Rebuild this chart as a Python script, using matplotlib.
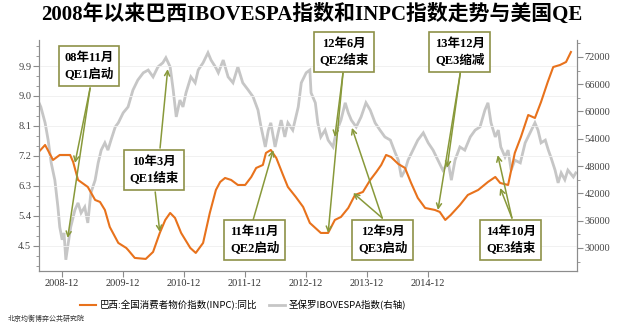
import matplotlib
matplotlib.use("Agg")
import matplotlib.pyplot as plt
from matplotlib.ticker import MultipleLocator

plt.rcParams['font.family'] = ['Noto Sans CJK SC', 'DejaVu Sans']
plt.rcParams['axes.unicode_minus'] = False

# 巴西 INPC 同比 (左轴, %)
inpc_t = [2008.52, 2008.64, 2008.77, 2008.88, 2009.05, 2009.10, 2009.18, 2009.34, 2009.46, 2009.54,
          2009.62, 2009.70, 2009.84, 2009.97, 2010.00, 2010.11, 2010.29, 2010.41, 2010.52, 2010.61,
          2010.69, 2010.77, 2010.87, 2011.02, 2011.11, 2011.23, 2011.34, 2011.44, 2011.51, 2011.59,
          2011.69, 2011.80, 2011.92, 2012.02, 2012.10, 2012.21, 2012.26, 2012.34, 2012.43, 2012.54,
          2012.62, 2012.75, 2012.87, 2012.98, 2013.07, 2013.16, 2013.28, 2013.39, 2013.49, 2013.61,
          2013.72, 2013.85, 2013.97, 2014.07, 2014.15, 2014.23, 2014.31, 2014.43, 2014.54, 2014.64,
          2014.75, 2014.87, 2015.03, 2015.11, 2015.20, 2015.29, 2015.44, 2015.57, 2015.74, 2015.90,
          2016.02, 2016.10, 2016.23, 2016.34, 2016.44, 2016.56, 2016.67, 2016.77, 2016.88, 2016.97,
          2017.08, 2017.18, 2017.26]
inpc_v = [7.29, 7.53, 7.08, 7.23, 7.23, 7.02, 6.48, 6.27, 5.88, 5.82,
          5.58, 5.07, 4.59, 4.44, 4.38, 4.14, 4.11, 4.32, 4.89, 5.28,
          5.49, 5.34, 4.89, 4.44, 4.29, 4.59, 5.49, 6.18, 6.42, 6.54,
          6.48, 6.33, 6.33, 6.57, 6.84, 6.93, 7.29, 7.38, 7.14, 6.63,
          6.27, 5.97, 5.67, 5.19, 5.04, 4.89, 4.89, 5.28, 5.37, 5.64,
          6.03, 6.12, 6.48, 6.72, 6.93, 7.23, 7.17, 6.96, 6.84, 6.39,
          5.94, 5.64, 5.58, 5.52, 5.28, 5.43, 5.73, 6.03, 6.18, 6.42,
          6.57, 6.39, 6.33, 7.29, 7.77, 8.43, 8.34, 8.82, 9.42, 9.87,
          9.93, 10.02, 10.32]

# 圣保罗 IBOVESPA 指数 (右轴, 千点)
ibov_t = [2008.52, 2008.57, 2008.64, 2008.69, 2008.74, 2008.80, 2008.85, 2008.88, 2008.92, 2008.95,
          2008.98, 2009.02, 2009.06, 2009.13, 2009.18, 2009.23, 2009.29, 2009.34, 2009.39, 2009.46,
          2009.51, 2009.56, 2009.62, 2009.67, 2009.72, 2009.79, 2009.84, 2009.92, 2010.00, 2010.08,
          2010.16, 2010.25, 2010.33, 2010.41, 2010.49, 2010.57, 2010.62, 2010.69, 2010.74, 2010.79,
          2010.85, 2010.90, 2010.95, 2011.03, 2011.10, 2011.15, 2011.23, 2011.31, 2011.36, 2011.44,
          2011.48, 2011.56, 2011.64, 2011.72, 2011.80, 2011.88, 2011.97, 2012.05, 2012.13, 2012.18,
          2012.25, 2012.30, 2012.34, 2012.41, 2012.46, 2012.51, 2012.57, 2012.62, 2012.70, 2012.79,
          2012.84, 2012.92, 2012.98, 2013.00, 2013.07, 2013.11, 2013.16, 2013.23, 2013.28, 2013.36,
          2013.41, 2013.49, 2013.56, 2013.61, 2013.66, 2013.74, 2013.82, 2013.90, 2013.97, 2014.05,
          2014.13, 2014.21, 2014.30, 2014.38, 2014.43, 2014.48, 2014.54, 2014.59, 2014.67, 2014.75,
          2014.84, 2014.92, 2015.00, 2015.08, 2015.16, 2015.25, 2015.30, 2015.36, 2015.44, 2015.52,
          2015.61, 2015.69, 2015.77, 2015.85, 2015.90, 2015.95, 2016.02, 2016.07, 2016.11, 2016.18,
          2016.23, 2016.28, 2016.34, 2016.43, 2016.51, 2016.59, 2016.67, 2016.72, 2016.77, 2016.84,
          2016.89, 2016.93, 2017.00, 2017.05, 2017.10, 2017.16, 2017.21, 2017.30, 2017.34]
ibov_v = [62.5, 61.0, 57.5, 53.7, 48.7, 44.9, 39.0, 34.6, 31.8, 33.3,
          27.4, 31.1, 34.6, 38.4, 39.9, 37.7, 39.0, 35.5, 42.1, 44.9,
          48.7, 51.5, 53.1, 51.5, 53.7, 56.6, 57.5, 59.7, 61.0, 64.7,
          66.9, 68.5, 69.1, 67.6, 69.8, 70.7, 71.8, 69.8, 64.7, 58.8,
          62.5, 61.0, 64.1, 67.6, 66.3, 69.1, 70.7, 72.9, 71.3, 69.6,
          68.5, 71.3, 67.6, 66.3, 69.8, 66.3, 64.7, 63.2, 60.3, 56.6,
          52.2, 55.9, 57.5, 52.2, 55.3, 58.1, 54.4, 57.5, 55.9, 61.0,
          66.3, 68.5, 69.1, 64.1, 61.9, 57.5, 54.4, 55.9, 53.7, 52.2,
          55.3, 58.1, 61.9, 59.7, 58.1, 56.6, 58.8, 61.9, 60.3, 57.5,
          55.9, 54.4, 53.7, 50.9, 49.3, 45.6, 47.1, 49.3, 51.5, 53.7,
          55.3, 53.1, 51.5, 49.3, 47.1, 48.7, 44.9, 49.3, 52.2, 51.5,
          54.4, 55.9, 56.6, 60.3, 61.9, 57.5, 54.4, 55.9, 52.2, 50.0,
          51.5, 47.1, 49.3, 48.7, 53.1, 55.3, 57.5, 55.9, 53.1, 53.7,
          51.5, 50.0, 47.1, 44.3, 46.5, 45.0, 47.1, 45.6, 46.5]

xtick_pos = [2008.917, 2009.917, 2010.917, 2011.917, 2012.917, 2013.917, 2014.917]
xtick_lab = ['2008-12', '2009-12', '2010-12', '2011-12', '2012-12', '2013-12', '2014-12']

# (文字, 框中心, [(箭头起点, 目标点, 目标所在轴)])
notes = [
    ('08年11月\nQE1启动', (0.093, 0.888), [((0.095, 0.792), (2009.01, 32.2), 'r'),
                                         ((0.095, 0.792), (2009.13, 6.99), 'l')]),
    ('10年3月\nQE1结束', (0.214, 0.437), [((0.225, 0.532), (2010.65, 69.3), 'r'),
                                        ((0.216, 0.342), (2010.52, 4.92), 'l')]),
    ('11年11月\nQE2启动', (0.401, 0.134), [((0.398, 0.221), (2012.38, 7.38), 'l')]),
    ('12年6月\nQE2结束', (0.567, 0.948), [((0.565, 0.857), (2013.39, 54.4), 'r'),
                                        ((0.565, 0.857), (2013.28, 4.89), 'l')]),
    ('12年9月\nQE3启动', (0.639, 0.134), [((0.638, 0.229), (2013.67, 56.4), 'r'),
                                        ((0.638, 0.229), (2013.69, 6.09), 'l')]),
    ('13年12月\nQE3缩减', (0.782, 0.948), [((0.783, 0.857), (2015.23, 47.6), 'r'),
                                         ((0.783, 0.857), (2015.08, 5.58), 'l')]),
    ('14年10月\nQE3结束', (0.877, 0.134), [((0.879, 0.229), (2016.06, 50.4), 'r'),
                                         ((0.879, 0.229), (2016.10, 6.24), 'l')]),
]

orange = '#E8721C'
gray = '#C6C6C6'
olive = '#88993A'
axis_c = '#8C8C8C'
serif_cjk = ['Liberation Serif', 'Noto Sans CJK SC']

fig = plt.figure(figsize=(6.23, 3.28), dpi=100)
ax = fig.add_axes([0.0626, 0.174, 0.8636, 0.704])
ax2 = ax.twinx()
ax.set_zorder(ax2.get_zorder() + 1)
ax.patch.set_visible(False)

ax2.plot(ibov_t, ibov_v, color=gray, lw=2.0, solid_joinstyle='miter')
ax.plot(inpc_t, inpc_v, color=orange, lw=1.5)

ax.set_xlim(2008.54, 2017.36)
ax.set_ylim(3.75, 10.68)
ax2.set_ylim(24.95, 75.7)

ax.set_xticks(xtick_pos)
ax.set_xticklabels(xtick_lab, family='Liberation Serif', fontsize=7.5, color='#333333')
ax.yaxis.set_minor_locator(MultipleLocator(0.3))
ax.set_yticks([4.5, 5.4, 6.3, 7.2, 8.1, 9.0, 9.9])
ax.set_yticklabels(['4.5', '5.4', '6.3', '7.2', '8.1', '9.0', '9.9'],
                   family='Liberation Serif', fontsize=7.5, color='#444444')
ax2.set_yticks([30, 36, 42, 48, 54, 60, 66, 72])
ax2.set_yticklabels(['30000', '36000', '42000', '48000', '54000', '60000', '66000', '72000'],
                    family='Liberation Serif', fontsize=7.5, color='#444444')
ax2.yaxis.set_minor_locator(MultipleLocator(3))

for a in (ax, ax2):
    a.spines['top'].set_visible(False)
    for s in ('left', 'right', 'bottom'):
        a.spines[s].set_color(axis_c)
    a.tick_params(which='both', color=axis_c, direction='out')
    a.tick_params(which='major', length=4, pad=1.5)
    a.tick_params(which='minor', length=2.5)
ax.grid(axis='y', color='#EFEFEF', lw=0.6)
ax.set_axisbelow(True)

for text, center, arrows in notes:
    for start, target, side in arrows:
        tr = ax2.transData if side == 'r' else ax.transData
        ax.annotate('', xy=target, xycoords=tr, xytext=start, textcoords='axes fraction',
                    arrowprops=dict(arrowstyle='->', color=olive, lw=1.1,
                                    shrinkA=0, shrinkB=0, mutation_scale=9),
                    annotation_clip=False)
    ax.text(center[0], center[1], text, transform=ax.transAxes, ha='center', va='center',
            fontsize=9, fontweight='bold', family=serif_cjk, linespacing=1.35,
            bbox=dict(boxstyle='square,pad=0.45', fc='white', ec='#8E9148', lw=1.2),
            clip_on=False, zorder=10)

fig.text(0.5, 0.955, '2008年以来巴西IBOVESPA指数和INPC指数走势与美国QE', ha='center', va='center',
         fontsize=15, fontweight='bold', family=serif_cjk)

h1, = ax.plot([], [], color=orange, lw=1.5)
h2, = ax.plot([], [], color=gray, lw=2.0)
fig.legend([h1, h2], ['巴西:全国消费者物价指数(INPC):同比', '圣保罗IBOVESPA指数(右轴)'],
           loc='center', bbox_to_anchor=(0.39, 0.07), ncol=2, frameon=False,
           fontsize=6.8, handlelength=1.7, columnspacing=1.2, handletextpad=0.4)
fig.text(0.012, 0.022, '北京均衡博弈公共研究院', fontsize=5, color='#333333')

fig.savefig('out.png', dpi=100)
